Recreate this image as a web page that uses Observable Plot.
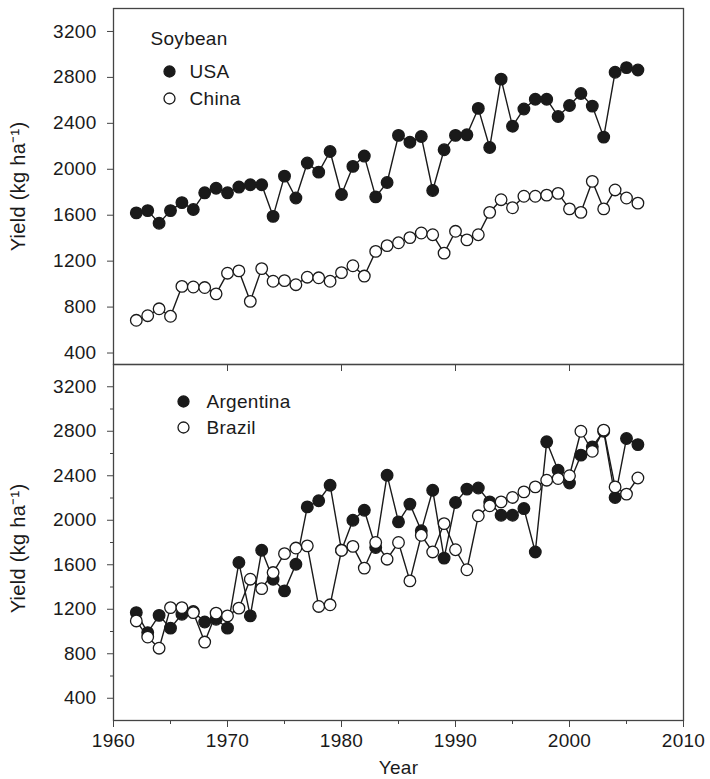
<!DOCTYPE html>
<html>
<head>
<meta charset="utf-8">
<script src="https://cdn.jsdelivr.net/npm/d3@7"></script>
<script src="https://cdn.jsdelivr.net/npm/@observablehq/plot@0.6"></script>
<style>
  html, body { margin: 0; padding: 0; background: #fff; }
  #wrap { position: relative; width: 710px; height: 779px; }
  #top, #bottom { position: absolute; left: 0; }
  #top { top: 0; z-index: 2; }
  #bottom { top: 356px; z-index: 1; }
</style>
</head>
<body>
<div id="wrap"><div id="top"></div><div id="bottom"></div></div>
<script>
// ---- data ----
const years = d3.range(1962, 2007);
const usa = [1620,1640,1530,1640,1710,1650,1795,1835,1795,1845,
             1865,1865,1590,1940,1750,2055,1975,2155,1780,2025,
             2115,1760,1885,2295,2235,2285,1815,2170,2295,2300,
             2530,2190,2785,2375,2525,2610,2610,2460,2555,2660,
             2550,2280,2845,2885,2865];
const china = [685,725,785,720,980,975,970,915,1095,1115,
               850,1135,1025,1030,995,1060,1055,1025,1100,1160,
               1070,1285,1335,1360,1405,1445,1430,1270,1460,1385,
               1430,1625,1735,1665,1765,1765,1775,1790,1655,1625,
               1895,1655,1820,1750,1705];
const argentina = [1170,990,1145,1030,1155,1180,1085,1110,1030,1620,
                   1140,1730,1470,1365,1605,2120,2175,2315,1730,2000,
                   2090,1755,2405,1985,2145,1905,2270,1660,2160,2280,
                   2290,2165,2045,2045,2105,1715,2705,2450,2335,2585,
                   2660,2800,2205,2735,2680];
const brazil = [1095,950,850,1215,1215,1170,905,1165,1140,1210,
                1470,1385,1530,1700,1750,1770,1225,1240,1730,1765,
                1570,1800,1650,1800,1455,1865,1715,1970,1735,1555,
                2040,2130,2165,2205,2255,2300,2360,2375,2400,2800,
                2620,2810,2300,2235,2380];
const yTicks = [400, 800, 1200, 1600, 2000, 2400, 2800, 3200];
const yMinor = [600, 1000, 1400, 1800, 2200, 2600, 3000];
const xTicks = [1960, 1970, 1980, 1990, 2000, 2010];
const xMinor = [1965, 1975, 1985, 1995, 2005];
const yLabel = "Yield (kg ha\u207B\u00B9)";
const xLabel = "Year";

const table = (vals) => years.map((y, i) => ({year: y, value: vals[i]}));

const font = "'Liberation Sans', Arial, Helvetica, sans-serif";
const ink = "#1a1a1a";
const axisInk = "#444";
const FS = 19;
const style = {fontFamily: font, fontSize: FS + "px", background: "transparent", overflow: "visible", color: ink, letterSpacing: "0.3px"};
const fmt = d => String(d);
const blank = () => "";

function series(data, filled) {
  return [
    Plot.line(data, {x: "year", y: "value", stroke: ink, strokeWidth: 1.4}),
    Plot.dot(data, {x: "year", y: "value", r: 5.8, fill: filled ? ink : "white", stroke: ink, strokeWidth: 1.3})
  ];
}

function legend(items, dxDot, dxText, dy0, step) {
  const marks = [];
  items.forEach((it, i) => {
    marks.push(Plot.dot([it], {frameAnchor: "top-left", dx: dxDot, dy: dy0 + i * step, r: 5.5,
      fill: it.filled ? ink : "white", stroke: ink, strokeWidth: 1.3}));
    marks.push(Plot.text([it], {frameAnchor: "top-left", dx: dxText, dy: dy0 + i * step, text: "name",
      textAnchor: "start", lineAnchor: "middle", fill: ink, fontSize: FS}));
  });
  return marks;
}

const yTitle = (dy) => Plot.text([yLabel], {frameAnchor: "left", dx: -95, dy, rotate: -90, textAnchor: "middle", lineAnchor: "middle", fill: ink, fontSize: 20});

const topPlot = Plot.plot({
  width: 710, height: 372,
  marginLeft: 113, marginRight: 27, marginTop: 8, marginBottom: 8,
  style,
  x: {domain: [1960, 2010]},
  y: {domain: [300, 3400]},
  marks: [
    Plot.frame({stroke: axisInk, strokeWidth: 1.3}),
    Plot.axisY({ticks: yTicks, tickSize: 6, tickPadding: 11, tickFormat: fmt, label: null, stroke: axisInk, fill: ink, fontSize: FS}),
    Plot.axisX({ticks: xTicks.slice(1, -1), tickSize: 7, tickFormat: blank, label: null, stroke: axisInk}),
    ...series(table(usa), true),
    ...series(table(china), false),
    Plot.text(["Soybean"], {frameAnchor: "top-left", dx: 37, dy: 30, textAnchor: "start", lineAnchor: "middle", fill: ink, fontSize: FS}),
    ...legend([{name: "USA", filled: true}, {name: "China", filled: false}], 56, 76, 63, 27),
    yTitle(0)
  ]
});

const bottomPlot = Plot.plot({
  width: 710, height: 423,
  marginLeft: 113, marginRight: 27, marginTop: 8, marginBottom: 59,
  style,
  x: {domain: [1960, 2010]},
  y: {domain: [200, 3400]},
  marks: [
    Plot.frame({stroke: axisInk, strokeWidth: 1.3}),
    Plot.axisY({ticks: yTicks, tickSize: 6, tickPadding: 11, tickFormat: fmt, label: null, stroke: axisInk, fill: ink, fontSize: FS}),
    Plot.axisY({ticks: yMinor, tickSize: 3, tickFormat: blank, label: null, stroke: axisInk}),
    Plot.axisX({ticks: xTicks, tickSize: 7, tickPadding: 6, tickFormat: fmt, label: null, stroke: axisInk, fill: ink, fontSize: FS}),
    Plot.axisX({ticks: xMinor, tickSize: 4, tickFormat: blank, label: null, stroke: axisInk}),
    ...series(table(argentina), true),
    ...series(table(brazil), false),
    ...legend([{name: "Argentina", filled: true}, {name: "Brazil", filled: false}], 70, 93, 37, 26),
    yTitle(6),
    Plot.text([xLabel], {frameAnchor: "bottom", dy: 47, lineAnchor: "middle", fill: ink, fontSize: FS})
  ]
});

document.getElementById("top").appendChild(topPlot);
document.getElementById("bottom").appendChild(bottomPlot);
</script>
</body>
</html>
